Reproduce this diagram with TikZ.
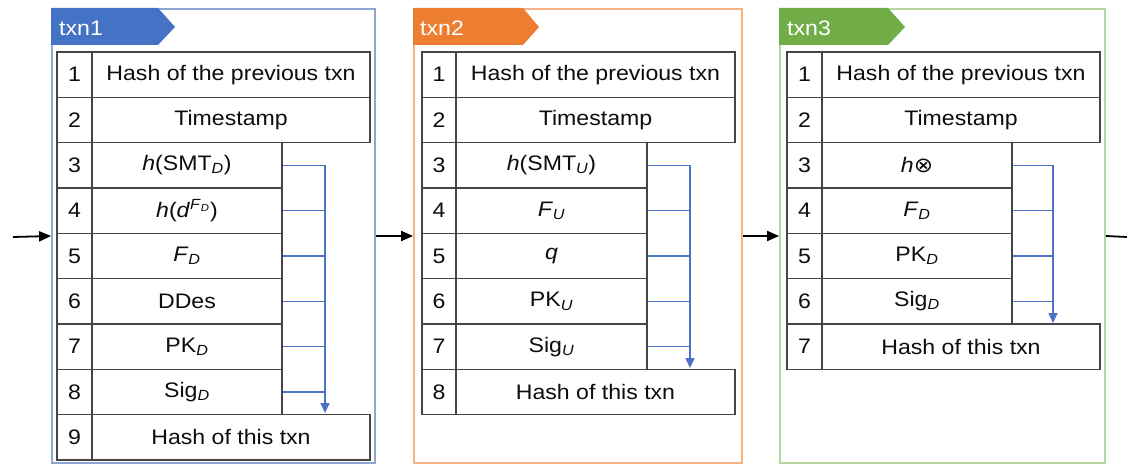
\documentclass[tikz,border=0pt]{standalone}
\usepackage{fontspec}
\setmainfont{Liberation Sans}
\newfontfamily\dvs{DejaVu Sans}
\usepackage{graphicx}
\usetikzlibrary{arrows.meta}
\definecolor{tabblue}{HTML}{4472C4}
\definecolor{taborange}{HTML}{ED7D31}
\definecolor{tabgreen}{HTML}{70AD47}
\definecolor{pblue}{HTML}{8FA5D6}
\definecolor{porange}{HTML}{F4B183}
\definecolor{pgreen}{HTML}{B5D79E}
\definecolor{gridgray}{HTML}{454545}
\definecolor{connblue}{HTML}{4A72C6}
\newcommand\sx[1]{\scalebox{1.1}[1]{#1}}
\newcommand\sbi[1]{\textsubscript{\textit{#1}}}
% #1 name, #2 row index, #3 left, #4 divider, #5 right, #6 text
\newcommand\trow[6]{%
  \node[cell, minimum width={#4-#3}] (#1n) at ({(#3+#4)/2},{52+(#2-0.5)*45.33}) {\sx{#2}};
  \node[cell, minimum width={#5-#4}] (#1) at ({(#4+#5)/2},{52+(#2-0.5)*45.33}) {\sx{#6}};
}
\begin{document}
\begin{tikzpicture}[x=1pt,y=-1pt,
  panelbox/.style={rectangle, line width=1.8pt, inner sep=0pt, minimum height=454pt, fill=white},
  cell/.style={rectangle, draw=gridgray, line width=1.5pt, inner sep=0pt, minimum height=45.33pt,
    text=black!95, font=\fontsize{21}{24}\selectfont},
  tabtext/.style={text=white, font=\fontsize{21}{24}\selectfont, inner sep=0pt, anchor=west},
  conn/.style={draw=connblue, line width=1.6pt},
  connarrow/.style={conn, -{Triangle[length=10pt,width=9pt]}},
  flow/.style={line width=1.8pt, -{Triangle[length=12pt,width=10pt]}}]
\useasboundingbox (0,0) rectangle (1127,465);

% panels
\node[panelbox, draw=pblue, minimum width=323pt] (p1) at (213.5,236) {};
\node[panelbox, draw=porange, minimum width=328pt] (p2) at (578,236) {};
\node[panelbox, draw=pgreen, minimum width=325pt] (p3) at (942.5,236) {};

% tabs
\fill[tabblue] (51,8) -- (158,8) -- (175,27) -- (158,45) -- (51,45) -- cycle;
\node[tabtext] (t1) at (59,28) {\sx{txn1}};
\fill[taborange] (413,8) -- (523,8) -- (539,27) -- (523,45) -- (413,45) -- cycle;
\node[tabtext] (t2) at (420,28) {\sx{txn2}};
\fill[tabgreen] (779,8) -- (888,8) -- (905,27) -- (888,45) -- (779,45) -- cycle;
\node[tabtext] (t3) at (787,28) {\sx{txn3}};

% flow arrows
\coordinate (start) at (13,237);
\coordinate (finish) at (1127,237);
\draw[flow] (start) -- (p1.west);
\draw[flow] (p1.east) -- (p2.west);
\draw[flow] (p2.east) -- (p3.west);
\draw[line width=1.8pt] (p3.east) -- (finish);

% ---------- txn1 table ----------
\trow{a1}{1}{57}{92}{370}{Hash of the previous txn}
\trow{a2}{2}{57}{92}{370}{Timestamp}
\trow{a3}{3}{57}{92}{282}{\textit{h}(SMT\sbi{D})}
\trow{a4}{4}{57}{92}{282}{\textit{h}(\textit{d}\textsuperscript{\textit{F}\textsubscript{\textit{D}}})}
\trow{a5}{5}{57}{92}{282}{\textit{F}\sbi{D}}
\trow{a6}{6}{57}{92}{282}{DDes}
\trow{a7}{7}{57}{92}{282}{PK\sbi{D}}
\trow{a8}{8}{57}{92}{282}{Sig\sbi{D}}
\trow{a9}{9}{57}{92}{370}{Hash of this txn}
\coordinate (v1) at (325,413);
\draw[connarrow] (a3.east) -| (v1);
\foreach \r in {a4,a5,a6,a7,a8} \draw[conn] (\r.east) -- (\r.east -| v1);

% ---------- txn2 table ----------
\trow{b1}{1}{422}{456}{735}{Hash of the previous txn}
\trow{b2}{2}{422}{456}{735}{Timestamp}
\trow{b3}{3}{422}{456}{647}{\textit{h}(SMT\sbi{U})}
\trow{b4}{4}{422}{456}{647}{\textit{F}\sbi{U}}
\trow{b5}{5}{422}{456}{647}{\textit{q}}
\trow{b6}{6}{422}{456}{647}{PK\sbi{U}}
\trow{b7}{7}{422}{456}{647}{Sig\sbi{U}}
\trow{b8}{8}{422}{456}{735}{Hash of this txn}
\coordinate (v2) at (690,368);
\draw[connarrow] (b3.east) -| (v2);
\foreach \r in {b4,b5,b6,b7} \draw[conn] (\r.east) -- (\r.east -| v2);

% ---------- txn3 table ----------
\trow{c1}{1}{787}{822}{1100}{Hash of the previous txn}
\trow{c2}{2}{787}{822}{1100}{Timestamp}
\trow{c3}{3}{787}{822}{1012}{\textit{h}{\dvs ⊗}}
\trow{c4}{4}{787}{822}{1012}{\textit{F}\sbi{D}}
\trow{c5}{5}{787}{822}{1012}{PK\sbi{D}}
\trow{c6}{6}{787}{822}{1012}{Sig\sbi{D}}
\trow{c7}{7}{787}{822}{1100}{Hash of this txn}
\coordinate (v3) at (1053,323);
\draw[connarrow] (c3.east) -| (v3);
\foreach \r in {c4,c5,c6} \draw[conn] (\r.east) -- (\r.east -| v3);
\end{tikzpicture}
\end{document}
